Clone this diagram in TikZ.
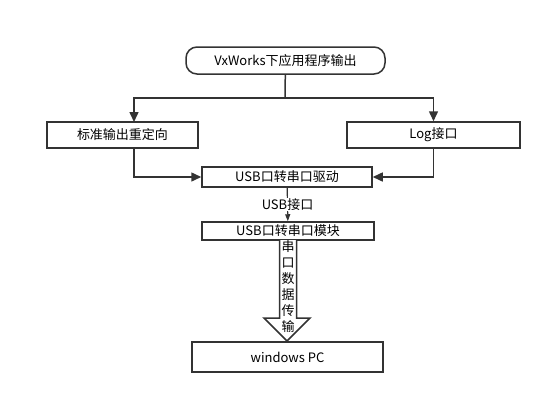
\documentclass[tikz,border=0pt]{standalone}
\usepackage{fontspec}
\setmainfont{Noto Sans CJK SC}
\usepackage{tikz}
\usetikzlibrary{positioning,arrows.meta}

\begin{document}
\begin{tikzpicture}[
    x=1pt, y=-1pt,
    font=\fontsize{13}{15}\selectfont,
    box/.style={rectangle, draw=black!80, line width=1.5pt, inner sep=0pt, fill=white},  % Style for the boxes
    startbox/.style={box, rounded corners=11pt},                                          % Style for the top box
    link/.style={draw=black!80, line width=1.5pt},                                        % Style for the connectors
    >={Triangle[length=10pt,width=9pt]}                                                   % Arrowhead style
    ]
    \useasboundingbox (0,0) rectangle (550,405);

    % Boxes of the flow
    \node[startbox, minimum width=199pt, minimum height=27pt] (app) at (285.5,60.5) {VxWorks下应用程序输出};
    \node[box, minimum width=151pt, minimum height=26pt] (stdout) at (122.5,135) {标准输出重定向};
    \node[box, minimum width=173pt, minimum height=26pt] (logif) at (433.5,135) {Log接口};
    \node[box, minimum width=170pt, minimum height=20pt] (driver) at (287,177) {USB口转串口驱动};
    \node[box, minimum width=172pt, minimum height=18pt] (module) at (288,231) {USB口转串口模块};
    \node[box, minimum width=191pt, minimum height=30pt] (pc) at (287.5,357) {windows PC};

    % Split below the top box
    \coordinate (split) at (285,98);
    \coordinate (stdtop) at (134,122);
    \coordinate (stdfoot) at (134,148);
    \draw[link] (app) -- (split);
    \draw[link, ->] (split) -| (stdtop);
    \draw[link, ->] (split) -| (logif.north);

    % Both outputs go to the driver
    \draw[link, ->] (stdfoot) |- (driver.west);
    \draw[link, ->] (logif.south) |- (driver.east);

    % Driver to module over USB
    \draw[link, ->, >={Triangle[length=7pt,width=5pt]}, line width=1.2pt] (driver) --
        node[fill=white, inner sep=1pt] {USB接口} (module);

    % Hollow arrow for the serial data
    \draw[draw=black!80, line width=1.5pt, fill=white, line join=miter]
        (279.5,240) -- (279.5,318) -- (264,318) -- (287,341) -- (310,318) -- (296.5,318) -- (296.5,240);
    \node[align=center, font=\fontsize{13}{16}\selectfont, inner sep=0pt] (serial) at (288,287)
        {串\\口\\数\\据\\传\\输};

\end{tikzpicture}
\end{document}
